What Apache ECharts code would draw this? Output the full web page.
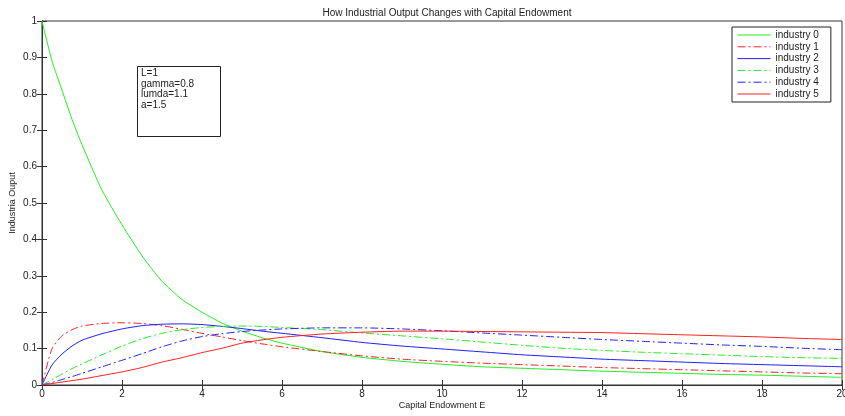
<!DOCTYPE html>
<html>
<head>
<meta charset="utf-8">
<script src="https://cdn.jsdelivr.net/npm/echarts@6/dist/echarts.min.js"></script>
<style>
  html, body { margin: 0; padding: 0; background: #fff; }
  #chart { width: 845px; height: 416px; }
</style>
</head>
<body>
<div id="chart"></div>
<script>
// capital endowment E (x positions)
var capital = [0, 0.25, 0.5, 0.75, 1, 1.5, 2, 2.5, 3, 3.5, 4, 4.5, 5, 5.5, 6, 7, 8, 9, 10, 11, 12, 13, 14, 15, 16, 17, 18, 19, 20]

var industry0 = [1, 0.89, 0.81, 0.73, 0.66, 0.535, 0.44, 0.355, 0.285, 0.235, 0.2, 0.17, 0.148, 0.13, 0.115, 0.092, 0.076, 0.065, 0.057, 0.05, 0.046, 0.042, 0.038, 0.035, 0.032, 0.029, 0.027, 0.024, 0.021]
var industry1 = [0, 0.1, 0.135, 0.152, 0.162, 0.169, 0.171, 0.169, 0.163, 0.153, 0.142, 0.132, 0.122, 0.113, 0.105, 0.092, 0.08, 0.071, 0.065, 0.06, 0.056, 0.052, 0.048, 0.045, 0.042, 0.039, 0.036, 0.033, 0.031]
var industry2 = [0, 0.055, 0.085, 0.107, 0.123, 0.141, 0.154, 0.163, 0.167, 0.168, 0.166, 0.161, 0.155, 0.148, 0.142, 0.13, 0.117, 0.107, 0.099, 0.091, 0.083, 0.077, 0.071, 0.067, 0.063, 0.059, 0.056, 0.053, 0.05]
var industry3 = [0, 0.015, 0.03, 0.045, 0.058, 0.083, 0.107, 0.127, 0.142, 0.152, 0.158, 0.161, 0.162, 0.161, 0.158, 0.152, 0.143, 0.135, 0.127, 0.118, 0.109, 0.101, 0.095, 0.09, 0.086, 0.082, 0.078, 0.075, 0.073]
var industry4 = [0, 0.007, 0.015, 0.023, 0.032, 0.05, 0.068, 0.086, 0.105, 0.121, 0.133, 0.141, 0.147, 0.151, 0.154, 0.157, 0.157, 0.154, 0.149, 0.143, 0.137, 0.131, 0.125, 0.12, 0.115, 0.11, 0.106, 0.101, 0.097]
var industry5 = [0, 0.004, 0.008, 0.012, 0.016, 0.026, 0.036, 0.048, 0.063, 0.075, 0.089, 0.101, 0.115, 0.124, 0.131, 0.14, 0.145, 0.148, 0.148, 0.147, 0.146, 0.145, 0.144, 0.141, 0.138, 0.135, 0.132, 0.128, 0.125]

var names = ['industry 0', 'industry 1', 'industry 2', 'industry 3', 'industry 4', 'industry 5']
var values = [industry0, industry1, industry2, industry3, industry4, industry5]
var colors = ['#22ee22', '#ff2020', '#2020ff', '#22ee22', '#2020ff', '#ff2020']
var dashDot = [8, 3, 2, 3]
var lineTypes = ['solid', dashDot, 'solid', dashDot, dashDot, 'solid']

var chart = echarts.init(document.getElementById('chart'))

var series = []
values.map(function (item, index) {
	series.push({
		name: names[index],
		type: 'line',
		symbol: 'none',
		smooth: 0.2,
		animation: false,
		lineStyle: {
			width: 1,
			color: colors[index],
			type: lineTypes[index],
		},
		itemStyle: { color: colors[index] },
		data: item.map(function (v, i) { return [capital[i], v] }),
	})
})

var axisColor = '#333'
var font = 'Liberation Sans, Arial, sans-serif'

var options = {
	backgroundColor: '#fff',
	title: {
		text: 'How Industrial Output Changes with Capital Endowment',
		left: 442,
		textAlign: 'center',
		top: 3,
		textStyle: { fontSize: 10, fontWeight: 'normal', color: '#222', fontFamily: font },
	},
	legend: {
		data: names,
		orient: 'vertical',
		left: 732,
		top: 27,
		padding: [3, 12, 3, 5],
		itemWidth: 33,
		itemHeight: 10,
		itemGap: 1.8,
		borderColor: '#222',
		borderWidth: 1,
		backgroundColor: '#fff',
		itemStyle: { opacity: 0 },
		lineStyle: { width: 1 },
		textStyle: { fontSize: 10, color: '#222', fontFamily: font },
	},
	grid: {
		left: 42,
		right: 3,
		top: 21,
		bottom: 31,
		outerBoundsMode: 'none',
		containLabel: false,
		show: true,
		borderColor: axisColor,
		borderWidth: 1,
	},
	xAxis: [
		{
			type: 'value',
			min: 0,
			max: 20,
			interval: 2,
			name: 'Capital Endowment E',
			nameLocation: 'middle',
			nameGap: 16,
			nameMoveOverlap: false,
			nameTextStyle: { fontSize: 9, color: '#222', fontFamily: font },
			axisLine: { show: true, lineStyle: { color: axisColor } },
			axisTick: { show: true, inside: true, length: 5, lineStyle: { color: axisColor } },
			axisLabel: { fontSize: 10, color: '#222', margin: 4, fontFamily: font },
			splitLine: { show: false },
		},
		{
			type: 'value',
			position: 'top',
			min: 0,
			max: 20,
			interval: 2,
			axisLine: { show: true, lineStyle: { color: axisColor } },
			axisTick: { show: true, inside: true, length: 5, lineStyle: { color: axisColor } },
			axisLabel: { show: false },
			splitLine: { show: false },
		},
	],
	yAxis: [
		{
			type: 'value',
			min: 0,
			max: 1,
			interval: 0.1,
			name: 'Industria Ouput',
			nameLocation: 'middle',
			nameGap: 25,
			nameMoveOverlap: false,
			nameTextStyle: { fontSize: 9, color: '#222', fontFamily: font },
			axisLine: { show: true, lineStyle: { color: axisColor } },
			axisTick: { show: true, inside: true, length: 5, lineStyle: { color: axisColor } },
			axisLabel: { fontSize: 10, color: '#222', margin: 5, fontFamily: font },
			splitLine: { show: false },
		},
		{
			type: 'value',
			position: 'right',
			min: 0,
			max: 1,
			interval: 0.1,
			axisLine: { show: true, lineStyle: { color: axisColor } },
			axisTick: { show: true, inside: true, length: 5, lineStyle: { color: axisColor } },
			axisLabel: { show: false },
			splitLine: { show: false },
		},
	],
	graphic: [
		{
			type: 'rect',
			left: 137,
			top: 66,
			shape: { width: 83, height: 70 },
			style: { fill: '#fff', stroke: '#222', lineWidth: 1 },
			z: 10,
		},
		{
			type: 'text',
			left: 141,
			top: 68,
			style: {
				text: 'L=1\ngamma=0.8\nlumda=1.1\na=1.5',
				font: '10px Liberation Sans, Arial, sans-serif',
				lineHeight: 10.5,
				fill: '#222',
			},
			z: 11,
		},
	],
	series: series,
}
chart.setOption(options, true)
</script>
</body>
</html>
